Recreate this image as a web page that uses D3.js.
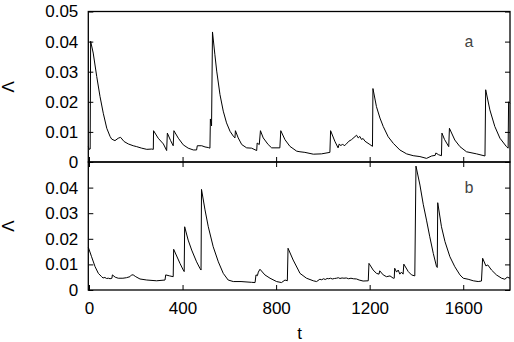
<!DOCTYPE html>
<html>
<head>
<meta charset="utf-8">
<script src="https://cdn.jsdelivr.net/npm/d3@7"></script>
<style>
  html, body { margin: 0; padding: 0; background: #fff; }
  svg { display: block; }
  .tick text { font-family: "Liberation Sans", Arial, sans-serif; font-size: 17px; fill: #000; }
</style>
</head>
<body>
<svg id="chart" width="514" height="342"></svg>
<script>
// ---- data ----
const tA = [-3,1,5,7,18,33,47,61,76,90,97,111,125,135,150,168,189,204,225,247,268,275,276,296,318,332,335,349,360,363,382,403,424,446,460,463,482,496,510,517,519,524,528,538,546,560,574,588,603,617,624,626,638,653,674,695,717,719,728,733,745,766,781,816,820,838,859,888,902,923,959,994,1030,1033,1051,1065,1070,1077,1084,1091,1098,1111,1122,1144,1151,1158,1165,1172,1180,1201,1212,1214,1229,1244,1258,1279,1301,1329,1358,1386,1415,1443,1465,1480,1483,1495,1507,1509,1520,1538,1541,1564,1586,1614,1657,1693,1696,1714,1735,1757,1785,1792,1794,1800];
const lamA = [0.0051,0.0042,0.0043,0.0401,0.0362,0.0284,0.0218,0.0162,0.0112,0.0085,0.0076,0.0071,0.0079,0.0082,0.0068,0.0060,0.0054,0.0051,0.0046,0.0042,0.0043,0.0042,0.0104,0.0079,0.0060,0.0038,0.0096,0.0071,0.0054,0.0104,0.0079,0.0057,0.0046,0.0040,0.0040,0.0054,0.0054,0.0050,0.0048,0.0046,0.0143,0.0120,0.0432,0.0358,0.0302,0.0224,0.0169,0.0130,0.0102,0.0086,0.0080,0.0104,0.0080,0.0058,0.0047,0.0046,0.0038,0.0063,0.0058,0.0104,0.0080,0.0058,0.0047,0.0047,0.0104,0.0074,0.0052,0.0036,0.0034,0.0032,0.0026,0.0027,0.0032,0.0104,0.0069,0.0047,0.0060,0.0054,0.0060,0.0054,0.0058,0.0069,0.0074,0.0089,0.0080,0.0085,0.0075,0.0078,0.0069,0.0058,0.0052,0.0244,0.0184,0.0146,0.0118,0.0084,0.0062,0.0040,0.0027,0.0021,0.0018,0.0012,0.0020,0.0022,0.0030,0.0024,0.0021,0.0096,0.0075,0.0051,0.0112,0.0073,0.0051,0.0034,0.0027,0.0020,0.0240,0.0173,0.0118,0.0079,0.0051,0.0046,0.0200,0.0195];

const tB = [-3,11,26,40,54,60,68,75,83,90,98,100,112,125,145,160,175,182,189,200,218,247,289,325,328,345,360,362,389,403,407,409,424,439,460,474,479,481,496,510,531,553,574,595,617,650,695,710,714,720,724,731,752,774,802,823,838,848,851,873,895,902,930,959,973,987,995,1003,1010,1018,1025,1033,1040,1050,1058,1066,1073,1082,1090,1100,1110,1120,1130,1144,1155,1172,1194,1197,1215,1229,1240,1243,1258,1272,1287,1301,1305,1307,1315,1322,1329,1336,1343,1346,1365,1379,1393,1398,1415,1429,1443,1457,1472,1486,1489,1491,1507,1522,1543,1564,1586,1600,1621,1643,1664,1678,1683,1697,1705,1721,1742,1764,1778,1788,1800];
const lamB = [0.0167,0.0130,0.0091,0.0065,0.0052,0.0047,0.0049,0.0045,0.0046,0.0044,0.0046,0.0059,0.0050,0.0046,0.0046,0.0048,0.0052,0.0059,0.0059,0.0052,0.0043,0.0039,0.0036,0.0039,0.0059,0.0055,0.0052,0.0159,0.0104,0.0078,0.0072,0.0247,0.0195,0.0156,0.0110,0.0085,0.0078,0.0393,0.0313,0.0247,0.0169,0.0110,0.0065,0.0039,0.0033,0.0033,0.0030,0.0029,0.0059,0.0056,0.0070,0.0081,0.0059,0.0046,0.0033,0.0029,0.0039,0.0036,0.0163,0.0117,0.0078,0.0065,0.0046,0.0036,0.0033,0.0042,0.0040,0.0044,0.0041,0.0045,0.0044,0.0046,0.0043,0.0045,0.0046,0.0048,0.0045,0.0047,0.0046,0.0047,0.0044,0.0046,0.0044,0.0043,0.0039,0.0035,0.0036,0.0104,0.0078,0.0065,0.0062,0.0075,0.0059,0.0052,0.0055,0.0046,0.0046,0.0085,0.0070,0.0078,0.0062,0.0070,0.0062,0.0101,0.0072,0.0059,0.0055,0.0484,0.0410,0.0335,0.0273,0.0208,0.0143,0.0091,0.0088,0.0341,0.0247,0.0189,0.0130,0.0091,0.0059,0.0046,0.0042,0.0036,0.0033,0.0035,0.0124,0.0094,0.0098,0.0078,0.0059,0.0046,0.0042,0.0050,0.0046];

const xTicks = [0, 400, 800, 1200, 1600];
const yTicksA = [0, 0.01, 0.02, 0.03, 0.04, 0.05];
const yTicksB = [0, 0.01, 0.02, 0.03, 0.04];
const panelLabels = ["a", "b"];
const xTitle = "t";
const yTitle = "Λ";

// ---- layout ----
const svg = d3.select("#chart");
const L = 88.3, R = 510;
const x = d3.scaleLinear().domain([-3, 1800]).range([L, R]);
const yA = d3.scaleLinear().domain([0, 0.05]).range([162, 11.5]);
const yB = d3.scaleLinear().domain([0, 0.05]).range([290, 162]);
const fmt = d => d === 0 ? "0" : d3.format(".2f")(d);

const line = (y) => d3.line().x(d => x(d[0])).y(d => y(d[1]));

function panel(tArr, vArr, y, yTicks, label, isBottom) {
  const g = svg.append("g");
  const data = tArr.map((t, i) => [t, vArr[i]]);
  g.append("path").datum(data)
    .attr("fill", "none").attr("stroke", "#000").attr("stroke-width", 1)
    .attr("stroke-linejoin", "round")
    .attr("d", line(y));

  const [y0, y1] = y.range();
  const left = g.append("g").attr("transform", `translate(${L},0)`)
    .call(d3.axisLeft(y).tickValues(yTicks).tickFormat(fmt).tickSize(-5).tickSizeOuter(0).tickPadding(10));
  const right = g.append("g").attr("transform", `translate(${R},0)`)
    .call(d3.axisRight(y).tickValues(yTicks).tickFormat("").tickSize(-5).tickSizeOuter(0));
  const bottom = g.append("g").attr("transform", `translate(0,${y0})`)
    .call(d3.axisBottom(x).tickValues(xTicks).tickFormat(isBottom ? d3.format("d") : "").tickSize(-5).tickSizeOuter(0).tickPadding(12));
  const all = [left, right, bottom];
  if (isBottom) {
    const top = g.append("g").attr("transform", `translate(0,${y1})`)
      .call(d3.axisTop(x).tickValues(xTicks).tickFormat("").tickSize(-5).tickSizeOuter(0));
    all.push(top);
  }
  all.forEach(a => { a.select(".domain").remove(); a.selectAll(".tick line").attr("stroke", "#000").attr("stroke-width", 1); });

  g.append("rect").attr("x", L).attr("y", y1).attr("width", R - L).attr("height", y0 - y1)
    .attr("fill", "none").attr("stroke", "#000").attr("stroke-width", 1.3);

  g.append("text").attr("x", 469).attr("y", y(0.0395))
    .attr("text-anchor", "middle").attr("dominant-baseline", "middle")
    .attr("font-family", "'Liberation Mono', 'DejaVu Sans Mono', monospace")
    .attr("font-size", 16).attr("fill", "#444").text(label);

  g.append("text")
    .attr("transform", `translate(14,${(y0 + y1) / 2}) rotate(-90)`)
    .attr("text-anchor", "middle")
    .attr("font-family", "'Liberation Sans', Arial, sans-serif")
    .attr("font-size", 17).attr("fill", "#000").text(yTitle);
}

panel(tA, lamA, yA, yTicksA, panelLabels[0], false);
panel(tB, lamB, yB, yTicksB, panelLabels[1], true);

svg.append("text").attr("x", x(900)).attr("y", 339)
  .attr("text-anchor", "middle")
  .attr("font-family", "'Liberation Sans', Arial, sans-serif")
  .attr("font-size", 17).attr("fill", "#000").text(xTitle);
</script>
</body>
</html>
